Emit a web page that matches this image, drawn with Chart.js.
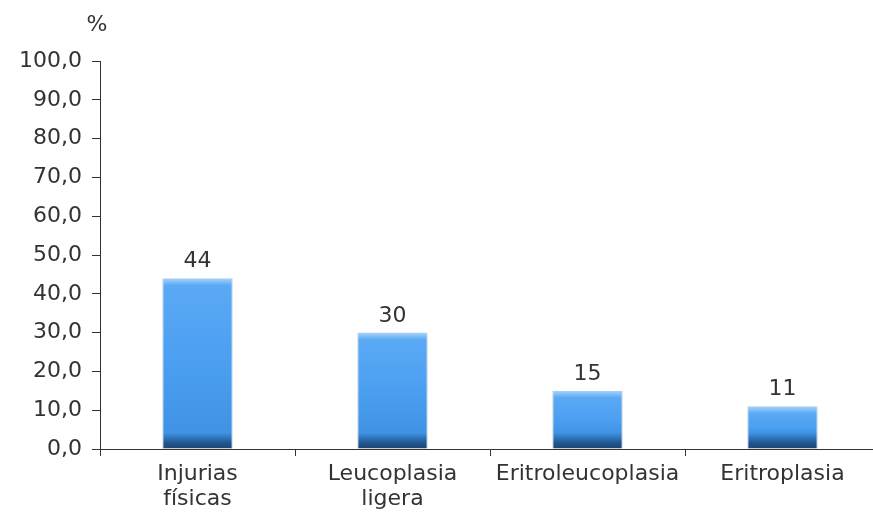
<!DOCTYPE html>
<html>
<head>
<meta charset="utf-8">
<script src="https://cdn.jsdelivr.net/npm/chart.js@4/dist/chart.umd.min.js"></script>
<style>
  html, body { margin: 0; padding: 0; background: #fff; overflow: hidden; }
  #wrap { width: 885px; height: 512px; }
</style>
</head>
<body>
<div id="wrap"><canvas id="chart"></canvas></div>
<script>
// data
const categories = [['Injurias', 'físicas'], ['Leucoplasia', 'ligera'], ['Eritroleucoplasia'], ['Eritroplasia']];
const values = [44, 30, 15, 11];
const valueLabels = ['44', '30', '15', '11'];
const yTicks = ['0,0', '10,0', '20,0', '30,0', '40,0', '50,0', '60,0', '70,0', '80,0', '90,0', '100,0'];
const yUnit = '%';

const textColor = '#333';
const axisColor = '#333';
const fontFamily = '"DejaVu Sans", Verdana, sans-serif';
const fontSize = 22;

// vertical shading for each bar: light top edge, blue body, dark base
function barFill(c) {
  const chart = c.chart;
  const y = chart.scales.y;
  if (!y || !chart.chartArea || c.raw == null) return '#4ea2f4';
  const top = y.getPixelForValue(c.raw);
  const base = y.getPixelForValue(0);
  const h = Math.max(base - top, 1);
  const f = px => Math.min(Math.max(px / h, 0), 1);
  const g = chart.ctx.createLinearGradient(0, top, 0, base);
  g.addColorStop(0, '#a9d3fa');
  g.addColorStop(f(7), '#5aa9f5');
  g.addColorStop(0.5, '#4b9ff1');
  g.addColorStop(f(h - 16), '#3f92e4');
  g.addColorStop(f(h - 10), '#2c6eb2');
  g.addColorStop(f(h - 6), '#21568d');
  g.addColorStop(1, '#1b4573');
  return g;
}

// value above each bar and the unit sign over the y axis
const labelsPlugin = {
  id: 'labels',
  afterDatasetsDraw(chart) {
    const ctx = chart.ctx;
    const meta = chart.getDatasetMeta(0);
    ctx.save();
    ctx.fillStyle = textColor;
    ctx.font = fontSize + 'px ' + fontFamily;
    ctx.textAlign = 'center';
    ctx.textBaseline = 'alphabetic';
    meta.data.forEach((bar, i) => {
      ctx.fillText(valueLabels[i], bar.x, bar.y - 11);
    });
    const ys = chart.scales.y;
    ctx.fillText(yUnit, ys.right - 3, ys.top - 30);
    ctx.restore();
  }
};

new Chart(document.getElementById('chart'), {
  type: 'bar',
  data: {
    labels: categories,
    datasets: [{
      data: values,
      backgroundColor: barFill,
      borderColor: 'rgba(40, 100, 170, 0.45)',
      borderWidth: { left: 1, right: 1, top: 0, bottom: 0 },
      borderSkipped: false,
      barPercentage: 0.36,
      categoryPercentage: 1
    }]
  },
  options: {
    responsive: true,
    maintainAspectRatio: false,
    animation: false,
    layout: { padding: { top: 61, right: 5, left: 0, bottom: 0 } },
    plugins: {
      legend: { display: false },
      tooltip: { enabled: false }
    },
    scales: {
      x: {
        offset: true,
        grid: {
          display: true,
          offset: true,
          drawOnChartArea: false,
          drawTicks: true,
          tickLength: 7,
          color: axisColor
        },
        border: { display: true, color: axisColor, width: 1 },
        ticks: {
          color: textColor,
          font: { family: fontFamily, size: fontSize, lineHeight: 1.14 },
          padding: 6,
          maxRotation: 0,
          autoSkip: false
        },
        afterFit(scale) { scale.height = 63; }
      },
      y: {
        min: 0,
        max: 100,
        grid: {
          display: true,
          drawOnChartArea: false,
          drawTicks: true,
          tickLength: 8,
          color: axisColor
        },
        border: { display: true, color: axisColor, width: 1 },
        ticks: {
          stepSize: 10,
          color: textColor,
          font: { family: fontFamily, size: fontSize },
          padding: 10,
          callback: (v, i) => yTicks[i]
        },
        afterFit(scale) { scale.width = 100; }
      }
    }
  },
  plugins: [labelsPlugin]
});
</script>
</body>
</html>
